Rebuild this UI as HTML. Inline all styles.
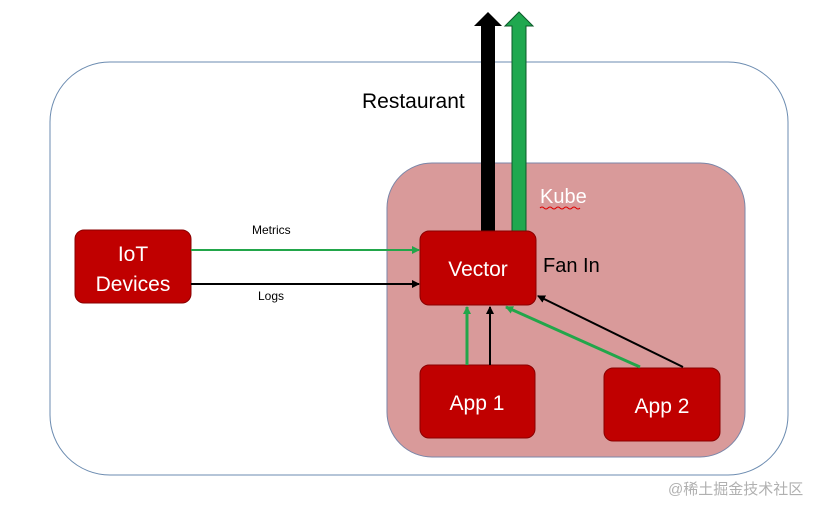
<!DOCTYPE html>
<html><head><meta charset="utf-8"><style>
body{margin:0;background:#fff;width:828px;height:503px;overflow:hidden}
</style></head><body>
<svg width="828" height="503" viewBox="0 0 828 503" xmlns="http://www.w3.org/2000/svg" font-family="Liberation Sans, Noto Sans CJK SC, sans-serif">
<defs>
<marker id="ab" markerWidth="8" markerHeight="8" refX="7" refY="4" orient="auto" markerUnits="userSpaceOnUse"><path d="M0,0 L8,4 L0,8 z" fill="#000"/></marker>
<marker id="ag" markerWidth="8" markerHeight="8" refX="7" refY="4" orient="auto" markerUnits="userSpaceOnUse"><path d="M0,0 L8,4 L0,8 z" fill="#22a64a"/></marker>
</defs>
<rect x="50" y="62" width="738" height="413" rx="60" fill="#fff" stroke="#6b8bb0" stroke-width="1"/>
<rect x="387" y="163" width="358" height="294" rx="45" fill="#d99a9a" stroke="#7b86a8" stroke-width="1"/>
<text x="362" y="108" font-size="21" fill="#000">Restaurant</text>
<text x="540" y="203" font-size="20" fill="#fff">Kube</text>
<path d="M540 208 q2 -2 4 0 t4 0 t4 0 t4 0 t4 0 t4 0 t4 0 t4 0 t4 0 t4 0" stroke="#d00" fill="none" stroke-width="1"/>
<text x="543" y="272" font-size="20" fill="#000">Fan In</text>
<path d="M481 231 V26 H474 L488 12 L502 26 H495 V231 z" fill="#000"/>
<path d="M512 231 V26 H505 L519 12 L533 26 H526 V231 z" fill="#1fa84f" stroke="#0b5a2a" stroke-width="1"/>
<rect x="75" y="230" width="116" height="73" rx="9" fill="#c00000" stroke="#8a0000"/>
<text x="133" y="261" font-size="21" fill="#fff" text-anchor="middle">IoT</text>
<text x="133" y="291" font-size="21" fill="#fff" text-anchor="middle">Devices</text>
<rect x="420" y="231" width="116" height="74" rx="9" fill="#c00000" stroke="#8a0000"/>
<text x="478" y="276" font-size="21" fill="#fff" text-anchor="middle">Vector</text>
<rect x="420" y="365" width="115" height="73" rx="9" fill="#c00000" stroke="#8a0000"/>
<text x="477" y="410" font-size="21" fill="#fff" text-anchor="middle">App 1</text>
<rect x="604" y="368" width="116" height="73" rx="9" fill="#c00000" stroke="#8a0000"/>
<text x="662" y="413" font-size="21" fill="#fff" text-anchor="middle">App 2</text>
<line x1="191" y1="250" x2="419" y2="250" stroke="#22a64a" stroke-width="2" marker-end="url(#ag)"/>
<line x1="191" y1="284" x2="419" y2="284" stroke="#000" stroke-width="2" marker-end="url(#ab)"/>
<text x="252" y="234" font-size="12" fill="#000">Metrics</text>
<text x="258" y="300" font-size="12" fill="#000">Logs</text>
<line x1="467" y1="365" x2="467" y2="307" stroke="#22a64a" stroke-width="3" marker-end="url(#ag)"/>
<line x1="490" y1="365" x2="490" y2="307" stroke="#000" stroke-width="2" marker-end="url(#ab)"/>
<line x1="640" y1="367" x2="506" y2="307" stroke="#22a64a" stroke-width="3" marker-end="url(#ag)"/>
<line x1="683" y1="367" x2="538" y2="296" stroke="#000" stroke-width="2" marker-end="url(#ab)"/>
<text x="668" y="494" font-size="15" fill="#b0b0b0">@稀土掘金技术社区</text>
</svg>
</body></html>
